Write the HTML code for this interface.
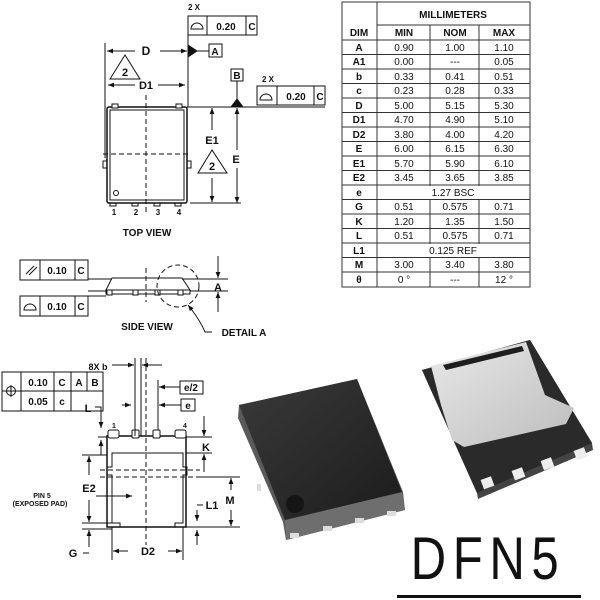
<!DOCTYPE html>
<html><head><meta charset="utf-8"><style>
html,body{margin:0;padding:0;background:#fff;width:600px;height:600px;overflow:hidden}
svg{display:block}
text{font-family:"Liberation Sans",Arial,sans-serif;font-weight:bold;fill:#111}
</style></head><body>
<svg width="600" height="600" viewBox="0 0 600 600" xmlns="http://www.w3.org/2000/svg">
<defs>
<marker id="ar" viewBox="0 0 10 10" refX="10" refY="5" markerWidth="6" markerHeight="6" orient="auto-start-reverse"><path d="M0,1 L10,5 L0,9 z" fill="#111"/></marker>
<linearGradient id="g1" x1="0" y1="0" x2="1" y2="1"><stop offset="0" stop-color="#3a3a3a"/><stop offset="1" stop-color="#1c1c1c"/></linearGradient>
<linearGradient id="g2" x1="0" y1="0" x2="1" y2="1"><stop offset="0" stop-color="#e8e8e8"/><stop offset="1" stop-color="#bdbdbd"/></linearGradient>
</defs>
<g stroke="#111" stroke-width="1" fill="none">
<!-- TOP VIEW -->
<rect x="107" y="107" width="80" height="96" rx="2" stroke-width="1.5"/>
<rect x="110" y="110" width="74" height="90"/>
<rect x="112" y="104" width="6" height="4" fill="#fff"/><rect x="176" y="104" width="6" height="4" fill="#fff"/>
<rect x="103" y="161" width="4" height="7"/><rect x="187" y="161" width="4" height="7"/>
<rect x="110" y="203" width="6" height="3"/><rect x="132" y="203" width="6" height="3"/><rect x="154" y="203" width="6" height="3"/><rect x="175" y="203" width="6" height="3"/>
<circle cx="116" cy="193" r="2.5"/>
<line x1="146" y1="95" x2="146" y2="215" stroke-dasharray="5,3"/>
<line x1="103" y1="154" x2="190" y2="154" stroke-dasharray="5,3"/>
<line x1="105" y1="43" x2="105" y2="158"/>
<line x1="188" y1="25" x2="188" y2="107"/>
<line x1="107" y1="51" x2="135" y2="51" marker-start="url(#ar)"/>
<line x1="160" y1="51" x2="187" y2="51" marker-end="url(#ar)"/>
<path d="M188,45 L197,51 L188,57 z" fill="#111"/>
<line x1="197" y1="51" x2="209" y2="51"/>
<rect x="209" y="44" width="13" height="13"/>
<rect x="188" y="16" width="69" height="19"/><line x1="207" y1="16" x2="207" y2="35"/><line x1="246" y1="16" x2="246" y2="35"/>
<path d="M191,29 A6,6 0 0 1 203,29 z"/>
<path d="M125,55 L110,79 L140,79 z"/>
<line x1="108" y1="85" x2="135" y2="85" marker-start="url(#ar)"/>
<line x1="158" y1="85" x2="185" y2="85" marker-end="url(#ar)"/>
<line x1="187" y1="107" x2="325" y2="107"/>
<rect x="257" y="86" width="68" height="19"/><line x1="277" y1="86" x2="277" y2="105"/><line x1="314" y1="86" x2="314" y2="105"/>
<path d="M260,100 A6,6 0 0 1 272,100 z"/>
<rect x="231" y="69" width="12" height="12"/>
<line x1="237" y1="81" x2="237" y2="100"/>
<path d="M237,99 L231,107 L243,107 z" fill="#111"/>
<line x1="237" y1="150" x2="237" y2="108" marker-end="url(#ar)"/>
<line x1="237" y1="168" x2="237" y2="203" marker-end="url(#ar)"/>
<line x1="212" y1="130" x2="212" y2="108" marker-end="url(#ar)"/>
<line x1="212" y1="178" x2="212" y2="202" marker-end="url(#ar)"/>
<path d="M212,150 L198,173 L227,173 z"/>
<line x1="190" y1="203" x2="241" y2="203"/>
<!-- SIDE VIEW -->
<path d="M112,278 L182,278 L190,290 L106,290 z"/>
<rect x="106" y="290" width="84" height="4"/>
<rect x="107" y="290" width="5" height="5" fill="#fff"/><rect x="133" y="290" width="5" height="5" fill="#fff"/><rect x="155" y="290" width="5" height="5" fill="#fff"/><rect x="178" y="290" width="5" height="5" fill="#fff"/>
<line x1="146" y1="268" x2="146" y2="302" stroke-dasharray="5,3"/>
<rect x="20" y="260" width="68" height="20"/><line x1="40" y1="260" x2="40" y2="280"/><line x1="75" y1="260" x2="75" y2="280"/>
<line x1="26" y1="274" x2="34" y2="266"/><line x1="29" y1="275" x2="37" y2="267"/>
<rect x="20" y="296" width="68" height="20"/><line x1="40" y1="296" x2="40" y2="316"/><line x1="75" y1="296" x2="75" y2="316"/>
<path d="M24,310 A6,6 0 0 1 36,310 z"/>
<line x1="88" y1="279" x2="112" y2="279"/><line x1="182" y1="279" x2="228" y2="279"/>
<line x1="88" y1="296" x2="106" y2="296"/><line x1="88" y1="291" x2="106" y2="291"/><line x1="190" y1="291" x2="228" y2="291"/>
<line x1="218" y1="256" x2="218" y2="278" marker-end="url(#ar)"/>
<line x1="218" y1="312" x2="218" y2="292" marker-end="url(#ar)"/>
<circle cx="178" cy="286" r="21" stroke-dasharray="5,3"/>
<path d="M188,305 Q200,320 205,332 L212,332" marker-start="url(#ar)"/>
<!-- BOTTOM VIEW -->
<rect x="2" y="372" width="101" height="39"/><line x1="2" y1="391" x2="103" y2="391"/>
<line x1="21" y1="372" x2="21" y2="411"/><line x1="54" y1="372" x2="54" y2="411"/><line x1="71" y1="372" x2="71" y2="411"/><line x1="87" y1="372" x2="87" y2="391"/>
<circle cx="11" cy="391" r="4.5"/><line x1="5" y1="391" x2="17" y2="391"/><line x1="11" y1="385" x2="11" y2="397"/>
<path d="M107,436 L186,436 L186,527 L107,527 z" stroke-width="1.5"/>
<rect x="108" y="430" width="11" height="8" rx="2" fill="#fff"/><rect x="132" y="430" width="7" height="8" rx="1" fill="#fff"/><rect x="153" y="430" width="7" height="8" rx="1" fill="#fff"/><rect x="175" y="430" width="11" height="8" rx="2" fill="#fff"/>
<path d="M120,527 L120,523 L112,523 L112,475 L107,475 L107,467 L112,467 L112,453 L183,453 L183,467 L187,467 L187,475 L183,475 L183,523 L175,523 L175,527"/>
<line x1="146" y1="358" x2="146" y2="545" stroke-dasharray="5,3"/>
<line x1="100" y1="470" x2="200" y2="470" stroke-dasharray="5,3"/>
<line x1="100" y1="477" x2="200" y2="477" stroke-dasharray="5,3"/>
<line x1="135" y1="358" x2="135" y2="436"/><line x1="141" y1="358" x2="141" y2="436"/>
<line x1="112" y1="365" x2="134" y2="365" marker-end="url(#ar)"/><line x1="162" y1="365" x2="142" y2="365" marker-end="url(#ar)"/>
<line x1="158" y1="380" x2="158" y2="430"/>
<line x1="180" y1="387" x2="159" y2="387" marker-end="url(#ar)"/>
<line x1="181" y1="405" x2="159" y2="405" marker-end="url(#ar)"/>
<rect x="180" y="381" width="23" height="13"/><rect x="181" y="399" width="14" height="12"/>
<line x1="122" y1="405" x2="131" y2="405" marker-end="url(#ar)"/>
<path d="M95,407 L101,407 L101,428" marker-end="url(#ar)"/>
<line x1="101" y1="455" x2="101" y2="440" marker-end="url(#ar)"/>
<line x1="98" y1="437" x2="107" y2="437"/>
<line x1="204" y1="416" x2="204" y2="436" marker-end="url(#ar)"/>
<line x1="204" y1="472" x2="204" y2="454" marker-end="url(#ar)"/>
<line x1="186" y1="437" x2="212" y2="437"/><line x1="186" y1="453" x2="212" y2="453"/>
<line x1="82" y1="455" x2="107" y2="455"/><line x1="82" y1="523" x2="112" y2="523"/>
<line x1="89" y1="475" x2="89" y2="456" marker-end="url(#ar)"/>
<line x1="89" y1="500" x2="89" y2="522" marker-end="url(#ar)"/>
<line x1="96" y1="496" x2="132" y2="496" marker-end="url(#ar)"/>
<line x1="82" y1="529" x2="112" y2="529"/>
<line x1="89" y1="547" x2="89" y2="530" marker-end="url(#ar)"/>
<line x1="89" y1="553" x2="83" y2="553"/>
<line x1="186" y1="527" x2="240" y2="527"/><line x1="196" y1="477" x2="240" y2="477"/>
<line x1="231" y1="490" x2="231" y2="478" marker-end="url(#ar)"/><line x1="231" y1="510" x2="231" y2="526" marker-end="url(#ar)"/>
<line x1="197" y1="510" x2="197" y2="521" marker-end="url(#ar)"/>
<line x1="197" y1="545" x2="197" y2="530" marker-end="url(#ar)"/>
<path d="M197,505 L203,505"/>
<line x1="112" y1="527" x2="112" y2="560"/><line x1="183" y1="527" x2="183" y2="560"/>
<line x1="128" y1="551" x2="113" y2="551" marker-end="url(#ar)"/><line x1="168" y1="551" x2="182" y2="551" marker-end="url(#ar)"/>
</g>
<g font-size="11" text-anchor="middle">
<text x="194" y="10" font-size="8">2 X</text>
<text x="226" y="30" font-size="10">0.20</text><text x="252" y="30" font-size="10">C</text>
<text x="146" y="55" font-size="12">D</text>
<text x="215" y="55" font-size="10">A</text>
<text x="125" y="76" font-size="11">2</text>
<text x="146" y="89" font-size="11">D1</text>
<text x="237" y="79" font-size="10">B</text>
<text x="268" y="82" font-size="8">2 X</text>
<text x="296" y="100" font-size="10">0.20</text><text x="320" y="100" font-size="10">C</text>
<text x="212" y="144" font-size="11">E1</text>
<text x="212" y="170" font-size="11">2</text>
<text x="236" y="163" font-size="11">E</text>
<text x="114" y="215" font-size="8">1</text><text x="136" y="215" font-size="8">2</text><text x="158" y="215" font-size="8">3</text><text x="179" y="215" font-size="8">4</text>
<text x="147" y="236" font-size="10">TOP VIEW</text>
<text x="57" y="274" font-size="10">0.10</text><text x="81" y="274" font-size="10">C</text>
<text x="57" y="310" font-size="10">0.10</text><text x="81" y="310" font-size="10">C</text>
<text x="218" y="291" font-size="11">A</text>
<text x="147" y="330" font-size="10">SIDE VIEW</text>
<text x="244" y="336" font-size="10">DETAIL A</text>
<text x="98" y="370" font-size="9">8X b</text>
<text x="38" y="386" font-size="10">0.10</text><text x="62" y="386" font-size="10">C</text><text x="79" y="386" font-size="10">A</text><text x="95" y="386" font-size="10">B</text>
<text x="38" y="405" font-size="10">0.05</text><text x="62" y="405" font-size="10">c</text>
<text x="191" y="391" font-size="10">e/2</text><text x="188" y="409" font-size="10">e</text>
<text x="88" y="412" font-size="11">L</text>
<text x="114" y="428" font-size="7">1</text><text x="185" y="428" font-size="7">4</text>
<text x="206" y="451" font-size="11">K</text>
<text x="89" y="492" font-size="11">E2</text>
<text x="42" y="498" font-size="7">PIN 5</text><text x="40" y="506" font-size="7">(EXPOSED PAD)</text>
<text x="230" y="504" font-size="11">M</text>
<text x="212" y="509" font-size="11">L1</text>
<text x="73" y="557" font-size="11">G</text>
<text x="148" y="555" font-size="11">D2</text>
</g>
<!-- TABLE -->
<g stroke="#333" stroke-width="1" fill="none">
<rect x="342" y="2" width="188" height="285"/>
<line x1="377" y1="2" x2="377" y2="287"/>
<line x1="377" y1="25" x2="530" y2="25"/>
<line x1="342" y1="40" x2="530" y2="40"/>
<line x1="430" y1="25" x2="430" y2="287"/><line x1="479" y1="25" x2="479" y2="287"/>
</g>
<g font-size="10" text-anchor="middle">
<text x="453" y="18">MILLIMETERS</text>
<text x="359" y="36">DIM</text><text x="404" y="36">MIN</text><text x="455" y="36">NOM</text><text x="504" y="36">MAX</text>
</g>
<g stroke="#333" stroke-width="1">
<line x1="342" y1="54.5" x2="530" y2="54.5"/><line x1="342" y1="69" x2="530" y2="69"/><line x1="342" y1="83.5" x2="530" y2="83.5"/><line x1="342" y1="98" x2="530" y2="98"/><line x1="342" y1="112.5" x2="530" y2="112.5"/><line x1="342" y1="127" x2="530" y2="127"/><line x1="342" y1="141.5" x2="530" y2="141.5"/><line x1="342" y1="156" x2="530" y2="156"/><line x1="342" y1="170.5" x2="530" y2="170.5"/><line x1="342" y1="185" x2="530" y2="185"/><line x1="342" y1="199.5" x2="530" y2="199.5"/><line x1="342" y1="214" x2="530" y2="214"/><line x1="342" y1="228.5" x2="530" y2="228.5"/><line x1="342" y1="243" x2="530" y2="243"/><line x1="342" y1="257.5" x2="530" y2="257.5"/><line x1="342" y1="272" x2="530" y2="272"/>
</g>
<rect x="378" y="186" width="151" height="13" fill="#fff"/>
<rect x="378" y="244" width="151" height="13" fill="#fff"/>
<g font-size="10" text-anchor="middle">
<text x="359" y="51">A</text><text x="359" y="65">A1</text><text x="359" y="80">b</text><text x="359" y="94">c</text><text x="359" y="109">D</text><text x="359" y="123">D1</text><text x="359" y="138">D2</text><text x="359" y="152">E</text><text x="359" y="167">E1</text><text x="359" y="181">E2</text><text x="359" y="196">e</text><text x="359" y="210">G</text><text x="359" y="225">K</text><text x="359" y="239">L</text><text x="359" y="254">L1</text><text x="359" y="268">M</text><text x="359" y="283">θ</text>
</g>
<g font-size="10" text-anchor="middle" style="font-weight:normal">
<text x="404" y="51" style="font-weight:normal">0.90</text><text x="455" y="51" style="font-weight:normal">1.00</text><text x="504" y="51" style="font-weight:normal">1.10</text>
<text x="404" y="65" style="font-weight:normal">0.00</text><text x="455" y="65" style="font-weight:normal">---</text><text x="504" y="65" style="font-weight:normal">0.05</text>
<text x="404" y="80" style="font-weight:normal">0.33</text><text x="455" y="80" style="font-weight:normal">0.41</text><text x="504" y="80" style="font-weight:normal">0.51</text>
<text x="404" y="94" style="font-weight:normal">0.23</text><text x="455" y="94" style="font-weight:normal">0.28</text><text x="504" y="94" style="font-weight:normal">0.33</text>
<text x="404" y="109" style="font-weight:normal">5.00</text><text x="455" y="109" style="font-weight:normal">5.15</text><text x="504" y="109" style="font-weight:normal">5.30</text>
<text x="404" y="123" style="font-weight:normal">4.70</text><text x="455" y="123" style="font-weight:normal">4.90</text><text x="504" y="123" style="font-weight:normal">5.10</text>
<text x="404" y="138" style="font-weight:normal">3.80</text><text x="455" y="138" style="font-weight:normal">4.00</text><text x="504" y="138" style="font-weight:normal">4.20</text>
<text x="404" y="152" style="font-weight:normal">6.00</text><text x="455" y="152" style="font-weight:normal">6.15</text><text x="504" y="152" style="font-weight:normal">6.30</text>
<text x="404" y="167" style="font-weight:normal">5.70</text><text x="455" y="167" style="font-weight:normal">5.90</text><text x="504" y="167" style="font-weight:normal">6.10</text>
<text x="404" y="181" style="font-weight:normal">3.45</text><text x="455" y="181" style="font-weight:normal">3.65</text><text x="504" y="181" style="font-weight:normal">3.85</text>
<text x="453" y="196" style="font-weight:normal">1.27 BSC</text>
<text x="404" y="210" style="font-weight:normal">0.51</text><text x="455" y="210" style="font-weight:normal">0.575</text><text x="504" y="210" style="font-weight:normal">0.71</text>
<text x="404" y="225" style="font-weight:normal">1.20</text><text x="455" y="225" style="font-weight:normal">1.35</text><text x="504" y="225" style="font-weight:normal">1.50</text>
<text x="404" y="239" style="font-weight:normal">0.51</text><text x="455" y="239" style="font-weight:normal">0.575</text><text x="504" y="239" style="font-weight:normal">0.71</text>
<text x="453" y="254" style="font-weight:normal">0.125 REF</text>
<text x="404" y="268" style="font-weight:normal">3.00</text><text x="455" y="268" style="font-weight:normal">3.40</text><text x="504" y="268" style="font-weight:normal">3.80</text>
<text x="404" y="283" style="font-weight:normal">0 °</text><text x="455" y="283" style="font-weight:normal">---</text><text x="504" y="283" style="font-weight:normal">12 °</text>
</g>
<!-- 3D left chip -->
<path d="M239,405 L357,379 L403,492 L405,510 L286,540 L283,522 L238,418 z" fill="#5a5a5a"/>
<path d="M285,520 L402,492 L405,510 L286,540 z" fill="#6e6e6e"/>
<path d="M239,405 L357,379 L402,492 L285,520 z" fill="url(#g1)"/>
<circle cx="295" cy="504" r="9" fill="#151515"/>
<g fill="#ddd"><rect x="290" y="533" width="9" height="5"/><rect x="323" y="526" width="9" height="5"/><rect x="355" y="518" width="9" height="5"/><rect x="387" y="511" width="9" height="5"/><rect x="257" y="484" width="4" height="7"/></g>
<!-- 3D right chip -->
<path d="M422,370 L530,340 L592,443 L593,450 L478,499 L477,493 z" fill="#444"/>
<path d="M422,370 L530,340 L592,443 L477,493 z" fill="#2a2a2a"/>
<path d="M431,366 L526,342 L545,395 L574,408 L566,424 L464,447 L452,440 L441,405 z" fill="url(#g2)"/>
<path d="M443,365 L522,346 L524,351 L446,370 z" fill="#1e1e1e"/>
<g fill="#eee"><rect x="482" y="478" width="11" height="10" transform="rotate(-20 487 483)"/><rect x="513" y="469" width="11" height="10" transform="rotate(-20 518 474)"/><rect x="542" y="459" width="11" height="10" transform="rotate(-20 547 464)"/><rect x="575" y="449" width="11" height="10" transform="rotate(-20 580 454)"/></g>
<text x="488" y="579" font-size="60" text-anchor="middle" style="font-weight:normal;letter-spacing:8px" transform="translate(488 0) scale(0.82 1) translate(-488 0)">DFN5</text>
<rect x="397" y="595" width="184" height="3" fill="#111"/>
</svg>
</body></html>
